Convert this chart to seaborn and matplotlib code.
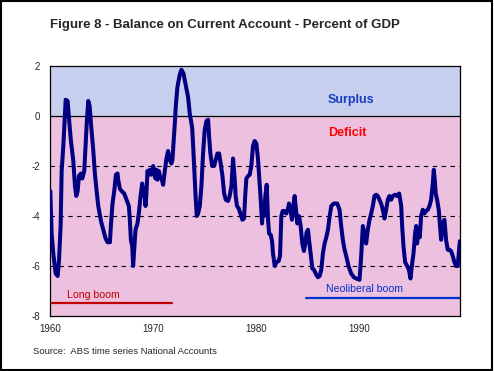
import pandas as pd
import matplotlib
matplotlib.use("Agg")
import matplotlib.pyplot as plt
import seaborn as sns
from matplotlib.patches import Rectangle
from matplotlib.ticker import MultipleLocator

# Balance on current account, % of GDP
years = [
    1960.03, 1960.16, 1960.32, 1960.55, 1960.74, 1960.87, 1961.03, 1961.13, 1961.29, 1961.39,
    1961.52, 1961.71, 1961.84, 1962.03, 1962.26, 1962.42, 1962.55, 1962.68, 1962.81, 1963.00,
    1963.13, 1963.32, 1963.45, 1963.58, 1963.71, 1963.84, 1963.97, 1964.19, 1964.35, 1964.52,
    1964.68, 1964.94, 1965.16, 1965.39, 1965.58, 1965.81, 1965.90, 1966.06, 1966.23, 1966.39,
    1966.55, 1966.61, 1966.77, 1966.94, 1967.19, 1967.42, 1967.65, 1967.74, 1967.84, 1967.97,
    1968.06, 1968.16, 1968.29, 1968.48, 1968.61, 1968.81, 1968.94, 1969.03, 1969.13, 1969.26,
    1969.35, 1969.45, 1969.58, 1969.68, 1969.84, 1970.00, 1970.10, 1970.23, 1970.32, 1970.42,
    1970.55, 1970.65, 1970.81, 1970.97, 1971.13, 1971.29, 1971.45, 1971.61, 1971.77, 1971.87,
    1972.00, 1972.10, 1972.19, 1972.35, 1972.58, 1972.74, 1972.94, 1973.13, 1973.39, 1973.55,
    1973.65, 1973.78, 1973.88, 1973.97, 1974.10, 1974.23, 1974.36, 1974.52, 1974.68, 1974.84,
    1975.00, 1975.17, 1975.33, 1975.42, 1975.55, 1975.72, 1975.91, 1976.07, 1976.23, 1976.39,
    1976.55, 1976.72, 1976.88, 1977.04, 1977.26, 1977.42, 1977.59, 1977.75, 1977.91, 1978.00,
    1978.13, 1978.30, 1978.49, 1978.65, 1978.81, 1978.94, 1979.04, 1979.20, 1979.36, 1979.52,
    1979.68, 1979.84, 1980.01, 1980.17, 1980.30, 1980.43, 1980.56, 1980.66, 1980.75, 1980.88,
    1981.01, 1981.14, 1981.24, 1981.40, 1981.53, 1981.62, 1981.79, 1981.95, 1982.17, 1982.30,
    1982.43, 1982.56, 1982.69, 1982.91, 1983.08, 1983.17, 1983.30, 1983.46, 1983.59, 1983.72,
    1983.85, 1983.98, 1984.14, 1984.30, 1984.46, 1984.62, 1984.75, 1984.88, 1985.01, 1985.11,
    1985.27, 1985.43, 1985.59, 1985.82, 1985.98, 1986.14, 1986.30, 1986.46, 1986.62, 1986.79,
    1986.95, 1987.08, 1987.27, 1987.52, 1987.85, 1988.07, 1988.23, 1988.39, 1988.56, 1988.72,
    1988.94, 1989.20, 1989.46, 1989.68, 1990.01, 1990.17, 1990.33, 1990.49, 1990.65, 1990.81,
    1990.98, 1991.14, 1991.30, 1991.46, 1991.62, 1991.78, 1991.94, 1992.10, 1992.27, 1992.43,
    1992.59, 1992.75, 1992.91, 1993.07, 1993.23, 1993.46, 1993.65, 1993.85, 1994.05, 1994.14,
    1994.27, 1994.43, 1994.63, 1994.79, 1994.95, 1995.08, 1995.24, 1995.40, 1995.50, 1995.59,
    1995.72, 1995.85, 1995.98, 1996.14, 1996.30, 1996.46, 1996.63, 1996.79, 1996.95, 1997.11,
    1997.21, 1997.30, 1997.40, 1997.53, 1997.69, 1997.82, 1997.92, 1998.08, 1998.24, 1998.40,
    1998.56, 1998.72, 1998.88, 1999.05, 1999.21, 1999.37, 1999.53, 1999.69, 1999.75,
]
balance = [
    -3.0, -4.7, -5.5, -6.3, -6.4, -5.8, -4.4, -2.2, -1.2, -0.4,
    0.65, 0.6, -0.1, -1.0, -1.8, -2.8, -3.2, -3.0, -2.4, -2.3,
    -2.5, -2.2, -1.2, -0.15, 0.6, 0.4, -0.3, -1.35, -2.3, -3.0,
    -3.6, -4.2, -4.55, -4.9, -5.05, -5.05, -4.4, -3.5, -3.0, -2.35,
    -2.3, -2.55, -2.9, -3.0, -3.1, -3.35, -3.6, -4.15, -4.95, -5.2,
    -6.0, -5.35, -4.55, -4.3, -3.9, -3.1, -2.7, -3.2, -2.9, -3.6,
    -3.1, -2.2, -2.35, -2.15, -2.35, -2.0, -2.15, -2.5, -2.15, -2.55,
    -2.2, -2.4, -2.5, -2.75, -2.2, -1.7, -1.4, -1.75, -1.9, -1.75,
    -0.95, -0.3, 0.35, 1.15, 1.65, 1.85, 1.7, 1.3, 0.75, 0.1,
    -0.15, -0.45, -1.2, -2.0, -3.1, -4.0, -3.9, -3.6, -2.8, -1.5,
    -0.55, -0.2, -0.15, -0.8, -1.5, -2.0, -2.0, -1.75, -1.5, -1.5,
    -1.9, -2.4, -3.1, -3.35, -3.4, -3.2, -2.8, -1.7, -2.55, -3.2,
    -3.6, -3.7, -3.95, -4.15, -4.1, -3.1, -2.5, -2.4, -2.35, -2.0,
    -1.2, -1.0, -1.1, -1.75, -2.55, -3.35, -4.3, -3.5, -4.0, -3.2,
    -2.75, -4.15, -4.7, -4.75, -5.0, -5.5, -6.0, -5.85, -5.8, -5.6,
    -4.0, -3.8, -3.8, -3.9, -3.7, -3.5, -3.7, -4.15, -3.6, -3.2,
    -3.75, -4.3, -4.0, -4.4, -5.1, -5.4, -5.1, -4.65, -4.55, -4.95,
    -5.5, -6.1, -6.15, -6.35, -6.45, -6.4, -6.15, -5.5, -5.1, -4.85,
    -4.55, -4.1, -3.6, -3.5, -3.5, -3.75, -4.4, -4.95, -5.35, -5.6,
    -6.0, -6.3, -6.45, -6.5, -6.55, -5.6, -4.4, -4.7, -5.1, -4.55,
    -4.15, -3.9, -3.6, -3.2, -3.15, -3.2, -3.35, -3.5, -3.75, -4.1,
    -3.75, -3.35, -3.2, -3.35, -3.2, -3.15, -3.2, -3.1, -3.6, -4.4,
    -5.2, -5.85, -6.0, -6.15, -6.5, -6.0, -5.5, -4.7, -4.4, -5.1,
    -4.55, -4.85, -4.0, -3.75, -3.9, -3.8, -3.75, -3.6, -3.35, -2.7,
    -2.15, -2.55, -3.1, -3.35, -3.75, -4.4, -4.95, -4.3, -4.15, -4.95,
    -5.35, -5.35, -5.4, -5.6, -5.85, -6.0, -6.0, -5.2, -5.0,
]
decade_ticks = [1960, 1970, 1980, 1990]
value_ticks = [2, 0, -2, -4, -6, -8]
long_boom = (1960.2, 1971.8)
neoliberal_boom = (1984.85, 1999.75)

df = pd.DataFrame({"year": years, "balance": balance})

sns.set_style("white")
plt.rcParams["font.family"] = ["Liberation Sans", "DejaVu Sans"]

fig = plt.figure(figsize=(4.94, 3.71), dpi=100)
ax = fig.add_axes([50 / 494, 1 - 316 / 371, 410 / 494, 250 / 371])

# shaded surplus / deficit zones
ax.axhspan(0, 2, color="#C6D0EE", lw=0, zorder=0)
ax.axhspan(-8, 0, color="#EEC0DF", lw=0, zorder=0)
ax.axhline(0, color="black", lw=0.9, zorder=1)
for v in [-2, -4, -6]:
    ax.axhline(v, color="black", lw=0.8, ls=(0, (4, 4)), zorder=1)

sns.lineplot(data=df, x="year", y="balance", ax=ax, color="#000080",
             lw=2.9, sort=False, estimator=None, zorder=3)

# boom periods
ax.plot(long_boom, [-7.47, -7.47], color="#C00000", lw=1.6, zorder=2)
ax.text(1961.6, -7.36, "Long boom", color="#C00000", fontsize=7.6,
        ha="left", va="bottom")
ax.plot(neoliberal_boom, [-7.27, -7.27], color="#0033CC", lw=1.6,
        zorder=2, clip_on=False)
ax.text(1986.8, -7.14, "Neoliberal boom", color="#0033CC", fontsize=7.6,
        ha="left", va="bottom")

ax.text(1989.2, 0.64, "Surplus", color="#1A3CC4", fontsize=9,
        fontweight="bold", ha="center", va="center")
ax.text(1988.8, -0.67, "Deficit", color="#FF0000", fontsize=9,
        fontweight="bold", ha="center", va="center")

ax.set_xlim(1960, 1999.75)
ax.set_ylim(-8, 2)
ax.set_xticks(decade_ticks)
ax.set_xticklabels([str(y) for y in decade_ticks])
ax.xaxis.set_minor_locator(MultipleLocator(0.25))
ax.set_yticks(value_ticks)
ax.set_yticklabels([str(v) for v in value_ticks])
ax.tick_params(axis="x", which="major", direction="in", length=4.5,
               width=0.8, labelsize=7, pad=6, color="black")
ax.tick_params(axis="x", which="minor", direction="in", length=2,
               width=0.6, color="black")
ax.tick_params(axis="y", length=0, labelsize=7, pad=7)
ax.set_xlabel("")
ax.set_ylabel("")
for s in ax.spines.values():
    s.set_color("black")
    s.set_linewidth(0.9)

fig.text(50 / 494, 1 - 25 / 371, "Figure 8 - Balance on Current Account - Percent of GDP",
         fontsize=9.5, fontweight="bold", ha="left", va="center")
fig.text(33 / 494, 1 - 352 / 371, "Source:  ABS time series National Accounts",
         fontsize=6.8, ha="left", va="center")

# outer frame
fig.patches.append(Rectangle((0.002, 0.003), 0.993, 0.994, transform=fig.transFigure,
                             fill=False, edgecolor="black", lw=1.5))

fig.savefig("out.png", dpi=100)
